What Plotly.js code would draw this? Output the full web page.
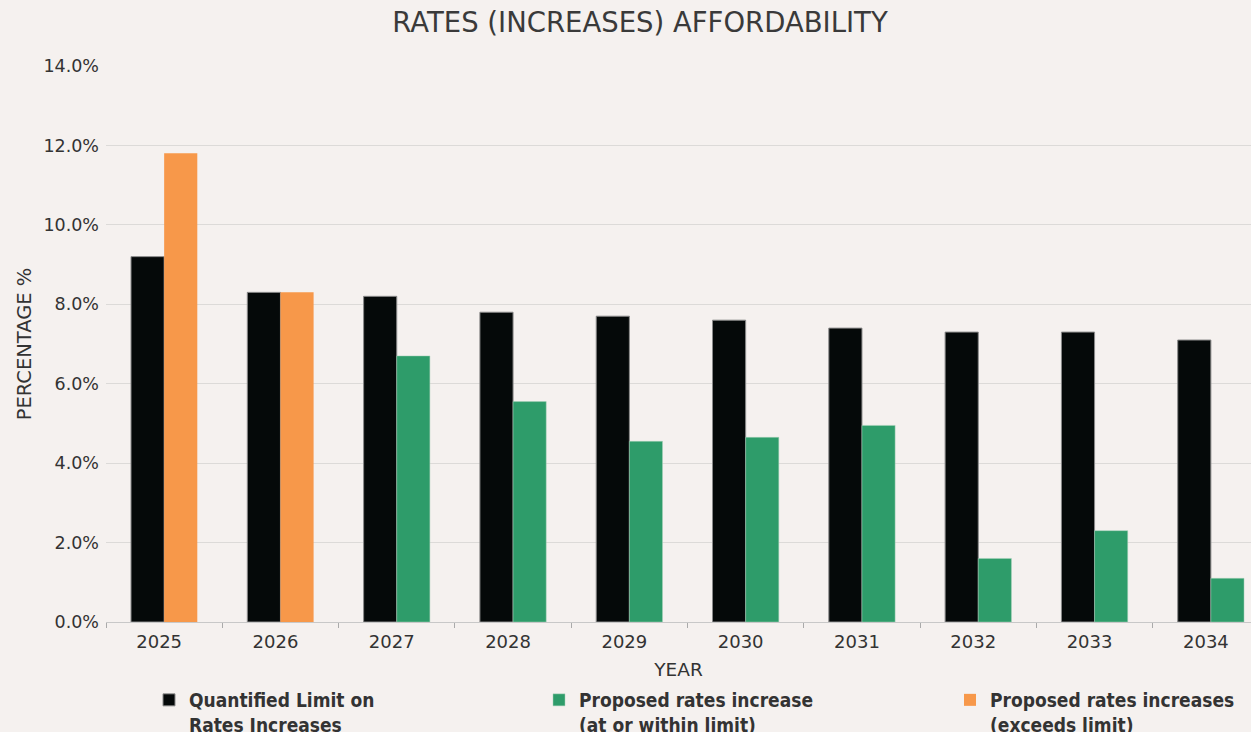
<!DOCTYPE html>
<html>
<head>
<meta charset="utf-8">
<script src="https://cdn.plot.ly/plotly-3.0.1.min.js"></script>
<style>
html,body{margin:0;padding:0;background:#f5f1ef;}
#chart{width:1251px;height:732px;}
</style>
</head>
<body>
<div id="chart"></div>
<script>
const years = ['2025','2026','2027','2028','2029','2030','2031','2032','2033','2034'];
const limitValues = [9.2, 8.3, 8.2, 7.8, 7.7, 7.6, 7.4, 7.3, 7.3, 7.1];
const withinValues = [null, null, 6.7, 5.55, 4.55, 4.65, 4.95, 1.6, 2.3, 1.1];
const exceedsValues = [11.8, 8.3, null, null, null, null, null, null, null, null];
const yTicks = [0, 2, 4, 6, 8, 10, 12, 14];
const yTickText = ['0.0%', '2.0%', '4.0%', '6.0%', '8.0%', '10.0%', '12.0%', '14.0%'];
const seriesNames = [
  'Quantified Limit on<br>Rates Increases',
  'Proposed rates increase<br>(at or within limit)',
  'Proposed rates increases<br>(exceeds limit)'
];

const FONT = 'DejaVu Sans, Noto Sans, sans-serif';
const LEGFONT = 'DejaVu Sans Condensed, DejaVu Sans, sans-serif';
const TXT = '#333333';

const traces = [
  {
    type: 'bar', name: seriesNames[0], legend: 'legend',
    x: years, y: limitValues, offsetgroup: 'a',
    marker: {color: '#050909', line: {color: '#8a8a8a', width: 1}}
  },
  {
    type: 'bar', name: seriesNames[1], legend: 'legend2',
    x: years, y: withinValues, offsetgroup: 'b',
    marker: {color: '#2e9c6a', line: {color: '#a9d3bb', width: 0.5}}
  },
  {
    type: 'bar', name: seriesNames[2], legend: 'legend3',
    x: years, y: exceedsValues, offsetgroup: 'b',
    marker: {color: '#f7984a', line: {width: 0}}
  }
];

function legendAt(px) {
  return {
    orientation: 'h',
    xref: 'container', yref: 'container',
    x: px/1251, xanchor: 'left',
    y: 1 - 681/732, yanchor: 'top',
    valign: 'top',
    font: {family: LEGFONT, size: 19, color: TXT, weight: 'bold'},
    bgcolor: 'rgba(0,0,0,0)'
  };
}

const layout = {
  width: 1251, height: 732,
  paper_bgcolor: '#f5f1ef', plot_bgcolor: '#f5f1ef',
  margin: {l: 106, r: 0, t: 66, b: 110},
  barmode: 'group', bargap: 0.43, bargroupgap: 0,
  showlegend: true,
  hovermode: false,
  title: {
    text: 'RATES (INCREASES) AFFORDABILITY',
    font: {family: FONT, size: 27.5, color: '#3a3a3a', weight: 400},
    x: 640/1251, xanchor: 'center', xref: 'container',
    y: 1 - 22/732, yanchor: 'middle', yref: 'container'
  },
  xaxis: {
    type: 'category',
    range: [-0.5, 9.345],
    tickson: 'boundaries', ticks: 'outside', ticklen: 5, tickcolor: '#aaaaaa', tickwidth: 1,
    showline: true, linecolor: '#c8c8c8', linewidth: 1,
    showgrid: false,
    tickfont: {family: FONT, size: 18, color: TXT},
    ticklabelshift: -5,
    ticklabelstandoff: 3,
    title: {text: 'YEAR', font: {family: FONT, size: 18.5, color: TXT}, standoff: 12},
    fixedrange: true
  },
  yaxis: {
    range: [0, 14],
    tickvals: yTicks, ticktext: yTickText,
    showgrid: true, gridcolor: '#dcdad8', gridwidth: 1,
    zeroline: false, showline: false, ticks: '',
    tickfont: {family: FONT, size: 17.5, color: TXT},
    ticklabelstandoff: 6,
    title: {text: 'PERCENTAGE %', font: {family: FONT, size: 19.5, color: TXT}, standoff: 6},
    fixedrange: true
  },
  legend: legendAt(149),
  legend2: legendAt(539),
  legend3: legendAt(950)
};

Plotly.newPlot('chart', traces, layout, {displayModeBar: false, staticPlot: true});
</script>
</body>
</html>
